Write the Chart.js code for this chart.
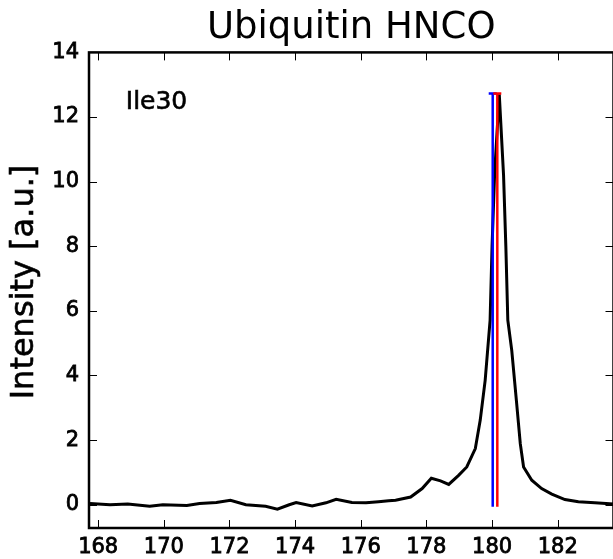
<!DOCTYPE html>
<html>
<head>
<meta charset="utf-8">
<script src="https://cdn.jsdelivr.net/npm/chart.js@4.4.1/dist/chart.umd.min.js"></script>
<style>
  html, body { margin: 0; padding: 0; background: #fff; }
  #wrap { width: 613px; height: 559px; overflow: hidden; }
  canvas { display: block; }
</style>
</head>
<body>
<div id="wrap"><canvas id="chart" width="620" height="559"></canvas></div>
<script>
// spectrum (ppm, a.u.)
const shiftPpm = [
  167.75, 168.36, 168.9, 169.57, 169.97, 170.7, 171.09, 171.6, 172.03, 172.5,
  173.1, 173.46, 173.82, 174.03, 174.52, 174.94, 175.25, 175.73, 176.16, 176.54,
  176.85, 177.06, 177.52, 177.87, 178.15, 178.43, 178.68, 178.98, 179.23, 179.49,
  179.64, 179.79, 179.89, 179.94, 180.0, 180.08, 180.22, 180.35, 180.42, 180.48,
  180.6, 180.75, 180.86, 180.96, 181.21, 181.51, 181.82, 182.22, 182.63, 183.13,
  183.7
];
const intensity = [
  0.04, 0.0, 0.02, -0.05, 0.0, -0.02, 0.04, 0.07, 0.14, 0.0,
  -0.05, -0.14, 0.0, 0.07, -0.04, 0.06, 0.17, 0.07, 0.06, 0.09,
  0.12, 0.14, 0.24, 0.5, 0.82, 0.74, 0.63, 0.91, 1.17, 1.74,
  2.62, 3.85, 5.09, 5.71, 8.0, 10.3, 12.7, 10.2, 8.0, 5.71,
  4.78, 3.13, 1.89, 1.17, 0.76, 0.5, 0.33, 0.16, 0.09, 0.06,
  0.02
];

// the two sticks (blue, red)
const stickShift = [180.02, 180.16];
const stickHeight = [-0.06, 12.73];

const xTicks = [168, 170, 172, 174, 176, 178, 180, 182];
const yTicks = [0, 2, 4, 6, 8, 10, 12, 14];

const TITLE = 'Ubiquitin HNCO';
const Y_TITLE = 'Intensity [a.u.]';
const RESIDUE = 'Ile30';

const FONT = '"DejaVu Sans", sans-serif';
const TICK = 8;

const framePlugin = {
  id: 'frame',
  afterDatasetsDraw(chart) {
    const { ctx, chartArea: a, scales: { x, y } } = chart;
    ctx.save();
    ctx.strokeStyle = '#000';
    ctx.lineWidth = 1;
    ctx.beginPath();
    xTicks.forEach((v) => {
      const px = Math.round(x.getPixelForValue(v)) + 0.5;
      ctx.moveTo(px, a.top); ctx.lineTo(px, a.top + TICK);
      ctx.moveTo(px, a.bottom); ctx.lineTo(px, a.bottom - TICK);
    });
    yTicks.forEach((v) => {
      const py = Math.round(y.getPixelForValue(v)) + 0.5;
      ctx.moveTo(a.left, py); ctx.lineTo(a.left + TICK, py);
      ctx.moveTo(a.right, py); ctx.lineTo(a.right - TICK, py);
    });
    ctx.stroke();

    ctx.lineWidth = 2.5;
    ctx.strokeRect(a.left, a.top, a.right - a.left, a.bottom - a.top);

    // labels drawn with a thin stroke to get the heavier look of the original
    ctx.fillStyle = '#000';
    ctx.lineWidth = 0.6;
    ctx.textBaseline = 'middle';
    ctx.textAlign = 'left';
    ctx.font = '25px ' + FONT;
    const rx = x.getPixelForValue(168.84);
    const ry = y.getPixelForValue(12.46);
    ctx.fillText(RESIDUE, rx, ry);
    ctx.strokeText(RESIDUE, rx, ry);

    ctx.translate(25, 282);
    ctx.rotate(-Math.PI / 2);
    ctx.textAlign = 'center';
    ctx.font = '32px ' + FONT;
    ctx.fillText(Y_TITLE, 0, 0);
    ctx.strokeText(Y_TITLE, 0, 0);
    ctx.restore();
  }
};

const stick = (xv, color, order) => ({
  data: stickHeight.map((h) => ({ x: xv, y: h })),
  borderColor: color,
  borderWidth: 2.5,
  pointStyle: 'line',
  pointRadius: [0, 4],
  pointBorderWidth: 2.5,
  pointBorderColor: color,
  pointHoverRadius: 0,
  order
});

const tickOpts = {
  autoSkip: false,
  maxRotation: 0,
  color: '#000',
  textStrokeColor: '#000',
  textStrokeWidth: 0.8,
  font: { family: FONT, size: 21 },
  callback: (v) => String(v)
};

new Chart(document.getElementById('chart').getContext('2d'), {
  type: 'line',
  data: {
    datasets: [
      {
        data: shiftPpm.map((v, i) => ({ x: v, y: intensity[i] })),
        borderColor: '#000',
        borderWidth: 3,
        pointRadius: 0,
        tension: 0,
        order: 3
      },
      stick(stickShift[0], '#0000ff', 2),
      stick(stickShift[1], '#ff0000', 1)
    ]
  },
  options: {
    responsive: false,
    animation: false,
    events: [],
    layout: { padding: { left: 0, right: 5, top: 0, bottom: 0 } },
    plugins: {
      legend: { display: false },
      tooltip: { enabled: false },
      title: {
        display: true,
        text: TITLE,
        fullSize: false,
        color: '#000',
        font: { family: FONT, size: 37, weight: 'normal', lineHeight: 1.2 },
        padding: { top: 6, bottom: 2 }
      }
    },
    scales: {
      x: {
        type: 'linear',
        min: 167.72,
        max: 183.7,
        grid: { display: false, drawTicks: false },
        border: { display: false },
        afterFit: (s) => { s.height = 31; },
        afterBuildTicks: (s) => { s.ticks = xTicks.map((v) => ({ value: v })); },
        ticks: { ...tickOpts, padding: 7 }
      },
      y: {
        type: 'linear',
        min: -0.72,
        max: 14,
        grid: { display: false, drawTicks: false },
        border: { display: false },
        afterFit: (s) => { s.width = 89; },
        afterBuildTicks: (s) => { s.ticks = yTicks.map((v) => ({ value: v })); },
        ticks: { ...tickOpts, padding: 10 }
      }
    }
  },
  plugins: [framePlugin]
});
</script>
</body>
</html>
